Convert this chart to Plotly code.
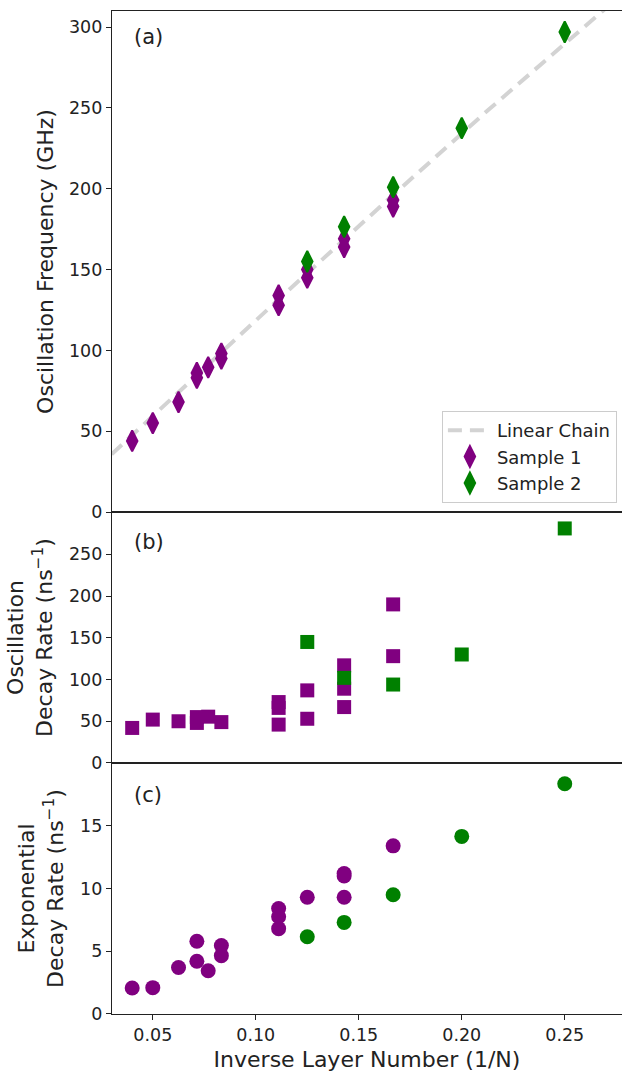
import numpy as np
import plotly.graph_objects as go
from plotly.subplots import make_subplots

# ---------------- data ----------------
# Panel (a): oscillation frequency (GHz)
s1_freq_x = [0.04, 0.05, 0.0625, 0.0714, 0.0714, 0.0769, 0.0833, 0.0833,
             0.1111, 0.1111, 0.125, 0.125, 0.1429, 0.1429, 0.1667, 0.1667]
s1_freq_y = [44, 55, 68, 83, 86, 89.5, 95, 98,
             128, 134, 145, 150, 164, 169, 189, 193]
s2_freq_x = [0.125, 0.1429, 0.1667, 0.2, 0.25]
s2_freq_y = [155, 176.5, 201, 237.5, 297]

# Linear-chain model: f = F * sin(pi/(2N)), x = 1/N
chain_F = 758.0
chain_x_range = [0.03, 0.28]

# Panel (b): oscillation decay rate (ns^-1)
s1_odr_x = [0.04, 0.05, 0.0625, 0.0714, 0.0714, 0.0769, 0.0833,
            0.1111, 0.1111, 0.1111, 0.125, 0.125, 0.1429, 0.1429, 0.1429,
            0.1667, 0.1667]
s1_odr_y = [42, 52, 50, 48, 55, 55.5, 49,
            46, 66, 73, 53, 87, 67, 89, 117,
            128, 190]
s2_odr_x = [0.125, 0.1429, 0.1667, 0.2, 0.25]
s2_odr_y = [145, 102, 94, 130, 281]

# Panel (c): exponential decay rate (ns^-1)
s1_edr_x = [0.04, 0.05, 0.0625, 0.0714, 0.0714, 0.0769, 0.0833, 0.0833,
            0.1111, 0.1111, 0.1111, 0.125, 0.1429, 0.1429, 0.1429, 0.1667]
s1_edr_y = [2.07, 2.1, 3.7, 4.2, 5.8, 3.45, 4.65, 5.45,
            6.8, 7.75, 8.4, 9.3, 9.3, 11.0, 11.2, 13.4]
s2_edr_x = [0.125, 0.1429, 0.1667, 0.2, 0.25]
s2_edr_y = [6.15, 7.3, 9.5, 14.15, 18.35]

x_ticks = [0.05, 0.10, 0.15, 0.20, 0.25]
ya_ticks = [0, 50, 100, 150, 200, 250, 300]
yb_ticks = [0, 50, 100, 150, 200, 250]
yc_ticks = [0, 5, 10, 15]

# ---------------- styling ----------------
PURPLE = "#800080"
GREEN = "#008000"
FONT = "DejaVu Sans"
FS = 17.5      # tick labels
FT = 22        # axis titles
FP = 21        # panel labels
FL = 18        # legend
TXT = "#222"

fig = make_subplots(rows=3, cols=1, shared_xaxes=True, vertical_spacing=0,
                    row_heights=[0.4995, 0.25025, 0.25025])

cx = np.linspace(chain_x_range[0], chain_x_range[1], 300)
cy = chain_F * np.sin(np.pi * cx / 2)
fig.add_trace(go.Scatter(x=cx, y=cy, mode="lines", name="Linear Chain",
                         line=dict(color="#d3d3d3", width=4, dash="14px,8px")),
              row=1, col=1)

dia = dict(symbol="diamond-tall", size=15)
fig.add_trace(go.Scatter(x=s1_freq_x, y=s1_freq_y, mode="markers", name="Sample 1",
                         marker=dict(color=PURPLE, line=dict(color=PURPLE, width=2), **dia)),
              row=1, col=1)
fig.add_trace(go.Scatter(x=s2_freq_x, y=s2_freq_y, mode="markers", name="Sample 2",
                         marker=dict(color=GREEN, line=dict(color=GREEN, width=2), **dia)),
              row=1, col=1)

sq = dict(symbol="square", size=14)
fig.add_trace(go.Scatter(x=s1_odr_x, y=s1_odr_y, mode="markers", showlegend=False,
                         marker=dict(color=PURPLE, **sq)), row=2, col=1)
fig.add_trace(go.Scatter(x=s2_odr_x, y=s2_odr_y, mode="markers", showlegend=False,
                         marker=dict(color=GREEN, **sq)), row=2, col=1)

ci = dict(symbol="circle", size=15)
fig.add_trace(go.Scatter(x=s1_edr_x, y=s1_edr_y, mode="markers", showlegend=False,
                         marker=dict(color=PURPLE, **ci)), row=3, col=1)
fig.add_trace(go.Scatter(x=s2_edr_x, y=s2_edr_y, mode="markers", showlegend=False,
                         marker=dict(color=GREEN, **ci)), row=3, col=1)

axis_common = dict(showgrid=False, zeroline=False, showline=True, linecolor=TXT,
                   linewidth=1.2, tickfont=dict(family=FONT, size=FS, color=TXT),
                   tickcolor=TXT, ticklen=5, tickwidth=1.2)

for r in (1, 2, 3):
    fig.update_xaxes(range=[0.0302, 0.2778], mirror=True, **axis_common, row=r, col=1)
fig.update_xaxes(ticks="", showticklabels=False, row=1, col=1)
fig.update_xaxes(ticks="", showticklabels=False, row=2, col=1)
fig.update_xaxes(ticks="outside", tickvals=x_ticks, tickformat=".2f",
                 title=dict(text="Inverse Layer Number (1/N)",
                            font=dict(family=FONT, size=FT, color=TXT), standoff=7),
                 row=3, col=1)

fig.update_yaxes(range=[0, 310], tickvals=ya_ticks, ticks="outside",
                 title=dict(text="Oscillation Frequency (GHz)",
                            font=dict(family=FONT, size=FT, color=TXT), standoff=9),
                 **axis_common, row=1, col=1)
fig.update_yaxes(range=[0, 300.7], tickvals=yb_ticks, ticks="outside",
                 title=dict(text="Oscillation<br>Decay Rate (ns<sup>−1</sup>)",
                            font=dict(family=FONT, size=FT, color=TXT), standoff=10),
                 **axis_common, row=2, col=1)
fig.update_yaxes(range=[0, 20], tickvals=yc_ticks, ticks="outside",
                 title=dict(text="Exponential<br>Decay Rate (ns<sup>−1</sup>)",
                            font=dict(family=FONT, size=FT, color=TXT), standoff=10),
                 **axis_common, row=3, col=1)

labels = [("(a)", "x domain", "y domain", 0.948),
          ("(b)", "x2 domain", "y2 domain", 0.882),
          ("(c)", "x3 domain", "y3 domain", 0.8725)]
for txt, xr, yr, yv in labels:
    fig.add_annotation(text=txt, xref=xr, yref=yr, x=0.039, y=yv, xanchor="left",
                       yanchor="middle", showarrow=False,
                       font=dict(family=FONT, size=FP, color=TXT))

fig.update_layout(
    width=622, height=1073,
    margin=dict(l=112, r=0, t=11, b=59),
    plot_bgcolor="white", paper_bgcolor="white",
    font=dict(family=FONT, size=FS, color=TXT),
    legend=dict(x=0.99, y=0.5095, xanchor="right", yanchor="bottom",
                bgcolor="white", bordercolor="#cccccc", borderwidth=1,
                font=dict(family=FONT, size=FL, color=TXT),
                itemwidth=44, tracegroupgap=0),
    showlegend=True,
)

fig.write_html("out.html")
